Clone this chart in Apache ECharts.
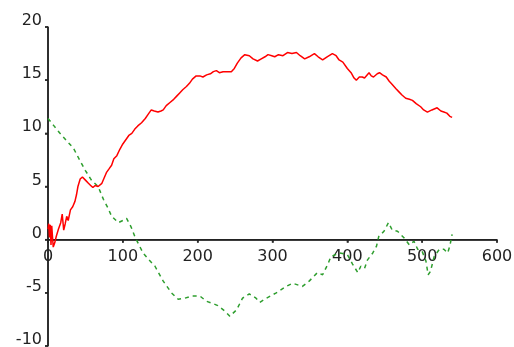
<!DOCTYPE html>
<html>
<head>
<meta charset="utf-8">
<script src="https://cdn.jsdelivr.net/npm/echarts@6/dist/echarts.min.js"></script>
<style>
html,body{margin:0;padding:0;background:#fff;}
#chart{width:514px;height:347px;}
</style>
</head>
<body>
<div id="chart"></div>
<script>
// Red series (x, y)
const redX = [0,1,2,3,4,5,6,7,9,11,14,17,19,21,23,25,27,30,33,36,38,40,43,46,50,54,57,60,63,67,72,75,78,82,85,88,92,96,100,104,108,112,116,120,125,130,134,138,142,147,151,154,158,163,168,172,176,180,185,189,193,198,203,207,212,217,221,225,229,234,240,245,249,253,258,263,269,274,280,285,290,294,299,303,308,314,320,326,332,337,343,349,356,361,367,373,380,385,389,394,400,405,409,412,416,420,423,429,432,435,440,443,447,452,456,460,465,469,473,478,483,487,492,498,502,507,513,520,525,529,533,537,540];
const redY = [1.0,1.5,0.2,1.4,-0.5,1.3,0.3,-0.7,-0.3,0.3,1.0,1.6,2.4,0.9,1.5,2.2,1.8,2.8,3.1,3.6,4.2,5.0,5.7,5.9,5.6,5.3,5.1,4.9,5.1,5.0,5.3,5.8,6.3,6.7,7.0,7.6,7.9,8.5,9.0,9.4,9.8,10.0,10.4,10.7,11.0,11.4,11.8,12.2,12.1,12.0,12.1,12.2,12.6,12.9,13.2,13.5,13.8,14.1,14.4,14.7,15.1,15.4,15.4,15.3,15.5,15.6,15.8,15.9,15.7,15.8,15.8,15.8,16.1,16.6,17.1,17.4,17.3,17.0,16.8,17.0,17.2,17.4,17.3,17.2,17.4,17.3,17.6,17.5,17.6,17.3,17.0,17.2,17.5,17.2,16.9,17.2,17.5,17.3,16.9,16.7,16.1,15.7,15.2,15.0,15.3,15.3,15.2,15.7,15.4,15.3,15.6,15.7,15.5,15.3,14.9,14.6,14.2,13.9,13.6,13.3,13.2,13.1,12.8,12.5,12.2,12.0,12.2,12.4,12.1,12.0,11.9,11.6,11.5];
// Green series (x, y)
const greenX = [0,8,16,25,34,43,50,58,67,74,80,85,94,100,105,111,116,118,127,135,143,154,165,174,183,192,203,212,220,227,236,243,245,252,260,269,278,283,292,305,318,327,340,349,360,367,374,378,389,400,407,414,418,423,427,434,439,442,449,455,460,467,476,483,489,494,500,505,508,511,516,523,529,534,537,540];
const greenY = [11.4,10.7,10.0,9.3,8.6,7.4,6.5,5.6,5.0,3.8,3.0,2.2,1.6,1.8,2.0,1.2,0.3,0.0,-1.25,-1.9,-2.5,-3.9,-5.0,-5.6,-5.5,-5.3,-5.3,-5.8,-6.0,-6.2,-6.7,-7.2,-7.3,-6.6,-5.5,-5.1,-5.5,-5.9,-5.5,-5.0,-4.4,-4.1,-4.4,-3.9,-3.1,-3.3,-2.3,-1.6,-1.25,-1.4,-2.3,-3.1,-2.5,-2.7,-1.9,-1.25,-0.6,0.3,0.8,1.6,0.9,0.8,0.15,-0.5,-0.15,-0.9,-1.1,-2.0,-3.3,-3.0,-1.6,-0.9,-0.9,-1.25,-0.6,0.5];
// Axis ticks
const xTicks = {min: 0, max: 600, step: 100};
const yTicks = {min: -10, max: 20, step: 5};

const redData = redX.map((x, i) => [x, redY[i]]);
const greenData = greenX.map((x, i) => [x, greenY[i]]);

function tickValues(t) {
  const out = [];
  for (let v = t.min; v <= t.max + 1e-9; v += t.step) out.push(v);
  return out;
}
const xTickVals = tickValues(xTicks);
const yTickVals = tickValues(yTicks);

const W = 514, H = 347;
const grid = {left: 48, right: 17, top: 27, bottom: 1};
const gridH = H - grid.top - grid.bottom;
// move the x axis labels from the grid bottom up to y = 0
const xOffset = -gridH * (0 - yTicks.min) / (yTicks.max - yTicks.min);

const chart = echarts.init(document.getElementById('chart'));
const axisText = {color: '#222', fontFamily: 'DejaVu Sans', fontSize: 16};
const axisColor = '#222';
chart.setOption({
  animation: false,
  backgroundColor: '#fff',
  grid: Object.assign({outerBoundsMode: 'none'}, grid),
  xAxis: {
    type: 'value', min: xTicks.min, max: xTicks.max, interval: xTicks.step,
    position: 'bottom', offset: xOffset,
    axisLine: {show: true, onZero: false, lineStyle: {color: axisColor, width: 1.5}},
    axisTick: {show: true, length: 3, lineStyle: {color: axisColor, width: 1.5}},
    axisLabel: Object.assign({margin: 9, showMinLabel: true, showMaxLabel: true}, axisText),
    splitLine: {show: false}
  },
  yAxis: {
    type: 'value', min: yTicks.min, max: yTicks.max, interval: yTicks.step,
    axisLine: {show: true, onZero: false, lineStyle: {color: axisColor, width: 1.5}},
    axisTick: {show: true, length: 3, lineStyle: {color: axisColor, width: 1.5}},
    axisLabel: Object.assign({margin: 6, verticalAlign: 'bottom', lineHeight: 12, showMinLabel: true, showMaxLabel: true}, axisText),
    splitLine: {show: false}
  },
  series: [
    // axis lines drawn through the scales (y axis at x = 0, x axis at y = 0)
    {type: 'line', data: [[0, yTicks.min], [0, yTicks.max]], symbol: 'none', silent: true, clip: false, z: 1,
     lineStyle: {color: axisColor, width: 1.5}},
    {type: 'line', data: [[xTicks.min, 0], [xTicks.max, 0]], symbol: 'none', silent: true, clip: false, z: 1,
     lineStyle: {color: axisColor, width: 1.5}},
    // tick marks
    {type: 'scatter', data: yTickVals.map(v => [0, v]), symbol: 'rect', symbolSize: [3, 1.5], symbolOffset: [-1.5, 0],
     silent: true, clip: false, z: 1, itemStyle: {color: axisColor}},
    {type: 'scatter', data: xTickVals.map(v => [v, 0]), symbol: 'rect', symbolSize: [1.5, 3], symbolOffset: [0, 1.5],
     silent: true, clip: false, z: 1, itemStyle: {color: axisColor}},
    // data
    {type: 'line', data: greenData, symbol: 'none', z: 2,
     lineStyle: {color: '#2e9e2e', width: 1.5, type: [4, 4]}},
    {type: 'line', data: redData, symbol: 'none', z: 3,
     lineStyle: {color: '#ff0000', width: 1.5}}
  ]
});
</script>
</body>
</html>
